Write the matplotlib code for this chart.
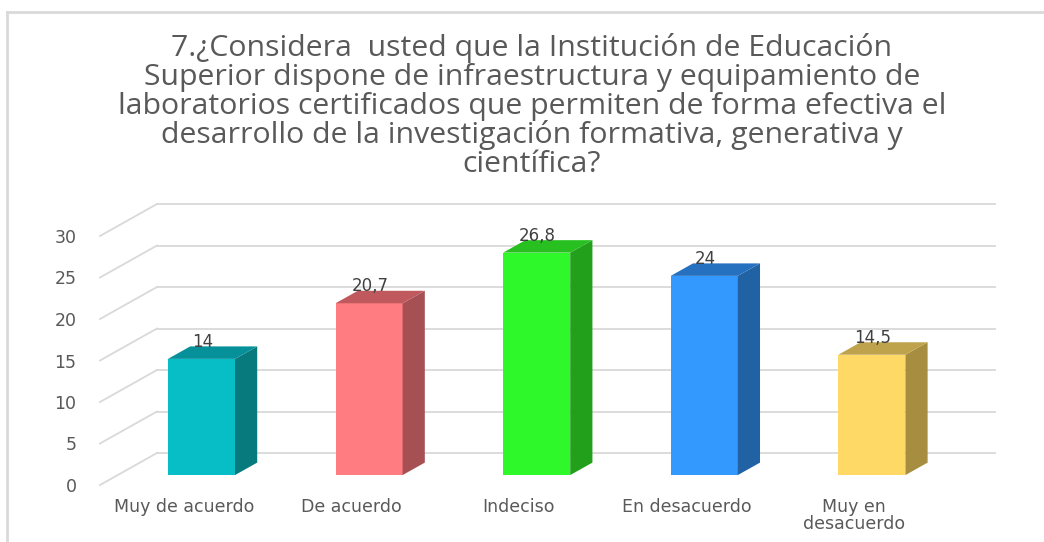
import matplotlib
matplotlib.use("Agg")
from matplotlib import pyplot as plt
from matplotlib.patches import Polygon
from matplotlib.lines import Line2D
import numpy as np

# chart data
categories = ['Muy de acuerdo', 'De acuerdo', 'Indeciso', 'En desacuerdo', 'Muy en\ndesacuerdo']
values = [14, 20.7, 26.8, 24, 14.5]
value_labels = ['14', '20,7', '26,8', '24', '14,5']
yticks = [0, 5, 10, 15, 20, 25, 30]
title = ('7.¿Considera  usted que la Institución de Educación\n'
         'Superior dispone de infraestructura y equipamiento de\n'
         'laboratorios certificados que permiten de forma efectiva el\n'
         'desarrollo de la investigación formativa, generativa y\n'
         'científica?')

front_cols = ['#08BEC6', '#FF7C80', '#2EF82A', '#3399FF', '#FFD966']
side_cols = ['#077A7E', '#A65054', '#22A01B', '#2162A5', '#A68D3F']
top_cols = ['#06909A', '#C0595D', '#27C020', '#2670C0', '#BFA34C']

W, H = 1044, 542
fig = plt.figure(figsize=(W / 100, H / 100), dpi=100)

# front plane: x from px 100 to 938, value 0 at px 485, 8.3 px per unit
px_per_unit = 8.3
ymax = 34
ax = fig.add_axes([100 / W, (H - 485) / H, 838 / W, ymax * px_per_unit / H])
ax.set_xlim(-0.5, 4.5)
ax.set_ylim(0, ymax)
for s in ax.spines.values():
    s.set_visible(False)

# depth offsets (full depth of the box) in data units
DX = 57 / 167.6
DY = 32 / px_per_unit
grid_c = '#D9D9D9'

for t in yticks:
    ax.add_line(Line2D([-0.5, -0.5 + DX], [t, t + DY], color=grid_c, lw=1.3, clip_on=False, zorder=1))
    ax.add_line(Line2D([-0.5 + DX, 4.5 + DX], [t + DY, t + DY], color=grid_c, lw=1.3, clip_on=False, zorder=1))

w = 0.2
z0, z1 = 0.31, 0.70
for i, v in enumerate(values):
    xl = i - w + z0 * DX
    xr = i + w + z0 * DX
    yb = z0 * DY
    dx = (z1 - z0) * DX
    dy = (z1 - z0) * DY
    front = Polygon([(xl, yb), (xr, yb), (xr, yb + v), (xl, yb + v)], closed=True,
                    fc=front_cols[i], ec='none', clip_on=False, zorder=3)
    side = Polygon([(xr, yb), (xr + dx, yb + dy), (xr + dx, yb + dy + v), (xr, yb + v)], closed=True,
                   fc=side_cols[i], ec='none', clip_on=False, zorder=3)
    top = Polygon([(xl, yb + v), (xr, yb + v), (xr + dx, yb + v + dy), (xl + dx, yb + v + dy)], closed=True,
                  fc=top_cols[i], ec='none', clip_on=False, zorder=3)
    for p in (front, side, top):
        ax.add_patch(p)
    ax.text(i + z0 * DX + 0.005, yb + v + 2.05, value_labels[i], ha='center', va='center',
            fontsize=12, color='#404040', zorder=4)

ax.set_yticks(yticks)
ax.set_yticklabels([str(t) for t in yticks])
ax.set_xticks(range(len(categories)))
ax.set_xticklabels(categories, linespacing=0.95)
ax.tick_params(axis='y', length=0, pad=17, labelsize=12.5, labelcolor='#595959')
ax.tick_params(axis='x', length=0, pad=9, labelsize=12.5, labelcolor='#595959')

fig.text(532 / W, 1 - 106 / H, title, ha='center', va='center', fontsize=21.8,
         family='Open Sans', color='#595959', linespacing=0.98)

# chart area border (left and top only visible)
fig.add_artist(Line2D([7 / W, 7 / W], [0, 1 - 12 / H], color=grid_c, lw=2, transform=fig.transFigure))
fig.add_artist(Line2D([7 / W, 1], [1 - 12 / H, 1 - 12 / H], color=grid_c, lw=2, transform=fig.transFigure))

fig.savefig('out.png', dpi=100)
